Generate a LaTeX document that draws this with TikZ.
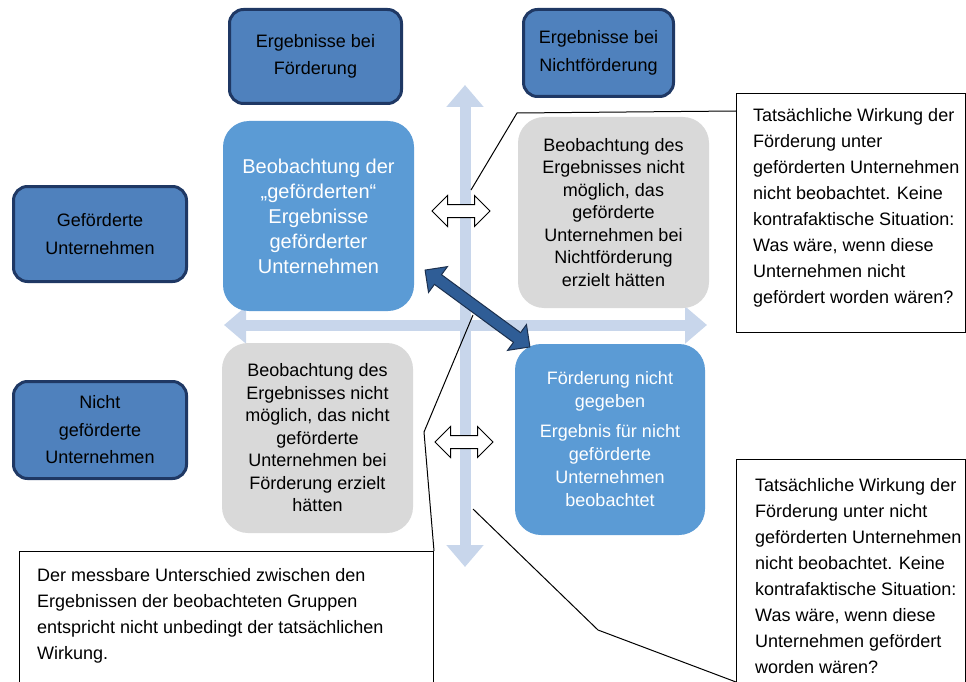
\documentclass[tikz,border=0pt]{standalone}
\usepackage{fontspec}
\setmainfont{Liberation Sans}
\usetikzlibrary{positioning}
\usetikzlibrary{calc}
\usetikzlibrary{arrows.meta}
\usetikzlibrary{shapes.arrows}

\definecolor{headblue}{RGB}{79,129,189}
\definecolor{headline}{RGB}{31,56,100}
\definecolor{obsblue}{RGB}{91,155,213}
\definecolor{cfgray}{RGB}{217,217,217}
\definecolor{axisblue}{RGB}{200,214,235}
\definecolor{linkblue}{RGB}{47,93,150}
\definecolor{linkline}{RGB}{28,48,78}

\begin{document}
\begin{tikzpicture}[x=1pt, y=-1pt,
        headbox/.style={draw=headline, line width=3pt, fill=headblue, rounded corners=14pt,
                        align=center, inner sep=0pt, font=\fontsize{18}{27.5}\selectfont},
        obsbox/.style={fill=obsblue, rounded corners=26pt, align=center, text=white, inner sep=0pt},
        cfbox/.style={fill=cfgray, rounded corners=26pt, align=center, inner sep=0pt,
                      minimum width=191pt, font=\fontsize{18}{22.5}\selectfont},
        notebox/.style={draw, line width=1pt, inner sep=0pt, anchor=north west},
        notetext/.style={align=left, inner sep=0pt, anchor=north west, font=\fontsize{18}{26}\selectfont},
        axisarrow/.style={line width=11pt, draw=axisblue,
                          {Triangle[width=36pt,length=22pt]}-{Triangle[width=36pt,length=22pt]}},
        sidearrow/.style={double arrow, draw, fill=white, line width=1pt, inner xsep=0pt, inner ysep=6pt,
                          double arrow head extend=9pt, minimum height=58pt},
        calloutline/.style={draw, line width=1pt}]
    \clip (0,0) rectangle (966,682);

    \coordinate (axT) at (465,85);
    \coordinate (axB) at (465,567);
    \coordinate (axL) at (224,325);
    \coordinate (axR) at (707,325);
    \draw[axisarrow] (axT) -- (axB);
    \draw[axisarrow] (axL) -- (axR);

    \node[headbox, minimum width=172pt, minimum height=94pt] (resF) at (315.5,56.5) {Ergebnisse bei\\Förderung};
    \node[headbox, minimum width=150pt, minimum height=87pt] (resN) at (598.5,53) {Ergebnisse bei\\Nichtförderung};
    \node[headbox, minimum width=173pt, minimum height=95pt] (grpF) at (100,234) {Geförderte\\Unternehmen};
    \node[headbox, minimum width=173pt, minimum height=97pt] (grpN) at (100,430) {Nicht\\geförderte\\Unternehmen};

    \node[obsbox, minimum width=191pt, minimum height=190pt, font=\fontsize{20}{25}\selectfont] (obsF) at (318.5,216)
        {Beobachtung der\\„geförderten“\\Ergebnisse\\geförderter\\Unternehmen};
    \node[cfbox, minimum height=191pt] (cfN) at (613.5,212.5)
        {Beobachtung des\\Ergebnisses nicht\\möglich, das\\geförderte\\Unternehmen bei\\Nichtförderung\\erzielt hätten};
    \node[cfbox, minimum height=190pt] (cfF) at (317.5,438)
        {Beobachtung des\\Ergebnisses nicht\\möglich, das nicht\\geförderte\\Unternehmen bei\\Förderung erzielt\\hätten};
    \node[obsbox, minimum width=190pt, minimum height=191pt, font=\fontsize{18}{23}\selectfont] (obsN) at (610,439.5)
        {Förderung nicht\\gegeben\\[7pt]Ergebnis für nicht\\geförderte\\Unternehmen\\beobachtet};

    \node[sidearrow] (swapT) at (461,211) {};
    \node[sidearrow] (swapB) at (464,442) {};
    \node[double arrow, draw=linkline, fill=linkblue, line width=1pt, inner xsep=0pt, inner ysep=5.5pt,
          double arrow head extend=10pt, minimum height=130pt, rotate=-36.25] (link) at (477.5,308.5) {};

    \node[notebox, minimum width=229pt, minimum height=239pt] (noteA) at (736,93) {};
    \node[notetext] (noteAtext) at ([xshift=17pt, yshift=-15pt]noteA.north west)
        {Tatsächliche Wirkung der\\Förderung unter\\geförderten Unternehmen\\nicht beobachtet. Keine\\kontrafaktische Situation:\\Was wäre, wenn diese\\Unternehmen nicht\\gefördert worden wären?};
    \node[notebox, minimum width=229pt, minimum height=250pt] (noteB) at (736,459) {};
    \node[notetext] (noteBtext) at ([xshift=19pt, yshift=-19pt]noteB.north west)
        {Tatsächliche Wirkung der\\Förderung unter nicht\\geförderten Unternehmen\\nicht beobachtet. Keine\\kontrafaktische Situation:\\Was wäre, wenn diese\\Unternehmen gefördert\\worden wären?};
    \node[notebox, minimum width=414pt, minimum height=160pt] (noteC) at (19,551) {};
    \node[notetext] (noteCtext) at ([xshift=18pt, yshift=-17pt]noteC.north west)
        {Der messbare Unterschied zwischen den\\Ergebnissen der beobachteten Gruppen\\entspricht nicht unbedingt der tatsächlichen\\Wirkung.};

    \coordinate (tipA) at (471,190);
    \coordinate (tipB) at (473,509);
    \coordinate (tipC) at (473,315);
    \draw[calloutline] ([yshift=-18pt]noteA.north west) -- (517,113) -- (tipA);
    \draw[calloutline] ([yshift=-223pt]noteB.north west) -- (598,630) -- (tipB);
    \draw[calloutline] (noteC.north east) -- (424,432) -- (tipC);
\end{tikzpicture}
\end{document}
